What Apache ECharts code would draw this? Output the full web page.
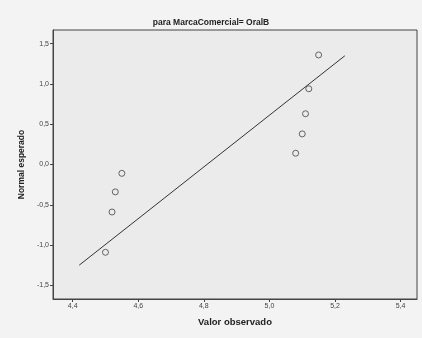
<!DOCTYPE html>
<html>
<head>
<meta charset="utf-8">
<script src="https://cdn.jsdelivr.net/npm/echarts@6/dist/echarts.min.js"></script>
<style>
  html, body { margin: 0; padding: 0; background: #f3f3f3; }
  #chart { width: 422px; height: 338px; }
</style>
</head>
<body>
<div id="chart"></div>
<script>
// Observed pH values and their expected normal scores
const observedValues = [4.50, 4.52, 4.53, 4.55, 5.08, 5.10, 5.11, 5.12, 5.15];
const expectedNormal = [-1.09, -0.59, -0.34, -0.11, 0.14, 0.38, 0.63, 0.94, 1.36];

// Reference line end points (observed value, expected normal)
const lineX = [4.42, 5.23];
const lineY = [-1.25, 1.35];

// Axis ticks and their printed labels
const xTicks = [4.4, 4.6, 4.8, 5.0, 5.2, 5.4];
const xTickLabels = ['4,4', '4,6', '4,8', '5,0', '5,2', '5,4'];
const yTicks = [-1.5, -1.0, -0.5, 0.0, 0.5, 1.0, 1.5];
const yTickLabels = ['-1,5', '-1,0', '-0,5', '0,0', '0,5', '1,0', '1,5'];

const titleText = 'para MarcaComercial= OralB';
const xName = 'Valor observado';
const yName = 'Normal esperado';

const FONT = '"Liberation Sans", Arial, sans-serif';

function labelFor(ticks, labels) {
  return function (v) {
    for (let i = 0; i < ticks.length; i++) {
      if (Math.abs(ticks[i] - v) < 1e-6) return labels[i];
    }
    return '';
  };
}

const chart = echarts.init(document.getElementById('chart'), null, { renderer: 'canvas' });

chart.setOption({
  animation: false,
  backgroundColor: '#f3f3f3',
  title: {
    text: titleText,
    left: 'center',
    top: 13,
    textStyle: { fontFamily: FONT, fontSize: 8.5, fontWeight: 'bold', color: '#222' }
  },
  grid: {
    left: 53, right: 5, top: 30, bottom: 39,
    show: true,
    backgroundColor: '#ebebeb',
    borderColor: '#444',
    borderWidth: 1
  },
  xAxis: {
    type: 'value',
    min: 4.34,
    max: 5.45,
    name: xName,
    nameLocation: 'middle',
    nameGap: 18,
    nameTextStyle: { fontFamily: FONT, fontSize: 9.5, fontWeight: 'bold', color: '#222' },
    axisLine: { show: true, onZero: false, lineStyle: { color: '#444', width: 1 } },
    axisTick: { show: true, length: 3, inside: false, customValues: xTicks, lineStyle: { color: '#444' } },
    axisLabel: {
      customValues: xTicks,
      formatter: labelFor(xTicks, xTickLabels),
      fontFamily: FONT, fontSize: 7, color: '#444', margin: 4
    },
    splitLine: { show: false }
  },
  yAxis: {
    type: 'value',
    min: -1.67,
    max: 1.67,
    name: yName,
    nameLocation: 'middle',
    nameRotate: 90,
    nameGap: 26,
    nameTextStyle: { fontFamily: FONT, fontSize: 8.5, fontWeight: 'bold', color: '#222' },
    axisLine: { show: true, onZero: false, lineStyle: { color: '#444', width: 1 } },
    axisTick: { show: true, length: 3, inside: false, customValues: yTicks, lineStyle: { color: '#444' } },
    axisLabel: {
      customValues: yTicks,
      formatter: labelFor(yTicks, yTickLabels),
      fontFamily: FONT, fontSize: 7, color: '#444', margin: 4
    },
    splitLine: { show: false }
  },
  series: [
    {
      type: 'line',
      data: lineX.map((x, i) => [x, lineY[i]]),
      symbol: 'none',
      lineStyle: { color: '#333', width: 1 },
      z: 2
    },
    {
      type: 'scatter',
      data: observedValues.map((x, i) => [x, expectedNormal[i]]),
      symbol: 'circle',
      symbolSize: 6,
      itemStyle: { color: 'rgba(0,0,0,0)', borderColor: '#444', borderWidth: 1 },
      z: 3
    }
  ]
});
</script>
</body>
</html>
